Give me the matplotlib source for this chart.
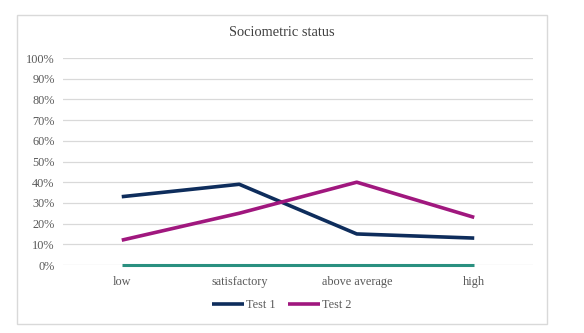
import numpy as np
import matplotlib.pyplot as plt
from matplotlib.patches import Rectangle
from matplotlib.ticker import PercentFormatter

categories = ['low', 'satisfactory', 'above average', 'high']
test1 = [33, 39, 15, 13]
test2 = [12, 25, 40, 23]
test3 = [0, 0, 0, 0]

plt.rcParams['font.family'] = ['Liberation Serif', 'DejaVu Serif']

fig = plt.figure(figsize=(5.84, 3.33), dpi=100)
W, H = 584, 333
ax = fig.add_axes([63 / W, 1 - 265 / H, 470 / W, (265 - 58) / H])

# outer chart border
fig.patches.append(Rectangle((17 / W, 1 - 324 / H), (547 - 17) / W, (324 - 15) / H,
                             transform=fig.transFigure, fill=False,
                             edgecolor='#d9d9d9', linewidth=1))

x = np.arange(len(categories))
ax.plot(x, test3, color='#2a9080', linewidth=2.2, solid_capstyle='butt', clip_on=False)
ax.plot(x, test1, color='#0e2d5c', linewidth=2.6, label='Test 1', solid_capstyle='butt')
ax.plot(x, test2, color='#a0177e', linewidth=2.6, label='Test 2', solid_capstyle='butt')

ax.set_xlim(-0.5, 3.5)
ax.set_ylim(0, 100)
ax.set_yticks(np.arange(0, 101, 10))
ax.yaxis.set_major_formatter(PercentFormatter(decimals=0))
ax.set_xticks(x)
ax.set_xticklabels(categories)
ax.grid(axis='y', color='#d9d9d9', linewidth=0.9)
ax.set_axisbelow(True)
for s in ax.spines.values():
    s.set_visible(False)
ax.tick_params(length=0, labelsize=8.8, colors='#595959', pad=6)
ax.tick_params(axis='x', pad=8)

fig.text(282 / W, 1 - 33 / H, 'Sociometric status', ha='center', va='center',
         fontsize=10.4, color='#404040')

ax.legend(loc='center', bbox_to_anchor=(282 / W, 1 - 305 / H), bbox_transform=fig.transFigure,
          ncol=2, frameon=False, fontsize=8.8, handlelength=2.6, handletextpad=0.2,
          columnspacing=1.0, labelcolor='#595959')

fig.savefig('out.png', dpi=100)
